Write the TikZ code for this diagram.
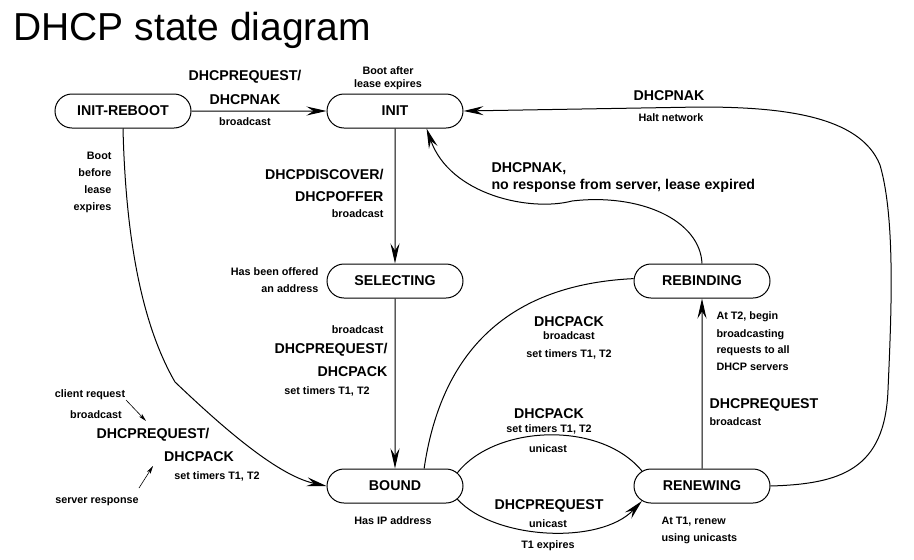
\documentclass[tikz,border=0pt]{standalone}
\usepackage{fontspec}
\setmainfont{Liberation Sans}
\usetikzlibrary{arrows.meta,shapes.misc}

\begin{document}
\begin{tikzpicture}[x=1pt, y=-1pt, line width=1pt,
    >={Stealth[length=20pt,width=9pt,inset=7pt]},
    state/.style={rounded rectangle, draw, minimum width=136pt, minimum height=34pt, inner sep=0pt, font=\bfseries\fontsize{14.2}{16}\selectfont},
    big/.style={inner sep=0pt, font=\bfseries\fontsize{14.2}{16}\selectfont},
    small/.style={inner sep=0pt, font=\bfseries\fontsize{10.8}{12}\selectfont}]
    \useasboundingbox (0,0) rectangle (914,560);
    \node[inner sep=0pt, anchor=base west, font=\fontsize{39}{44}\selectfont] (title) at (13,40) {DHCP state diagram};

    % states
    \node[state] (IR) at (123,111) {INIT-REBOOT};
    \node[state] (I) at (395,111) {INIT};
    \node[state] (S) at (395,281) {SELECTING};
    \node[state] (RB) at (702,281) {REBINDING};
    \node[state] (B) at (395,486) {BOUND};
    \node[state] (RN) at (702,486) {RENEWING};

    % transitions
    \draw[->] (IR) -- (I);
    \draw[->] (I) -- (S);
    \draw[->] (S) -- (B);
    \draw[->] (RN) -- (RB);
    \draw[->] (IR.south) .. controls (126,250) and (145,330) .. (175,382)
        .. controls (215,420) and (275,475) .. (B.west);
    \draw[->] (B.-12) .. controls (495,540) and (600,545) .. (RN.194);
    \draw (RN.166) .. controls (600,420) and (495,425) .. (B.12);
    \draw (RB.178) .. controls (500,285) and (440,360) .. (B.31);
    \draw[->] (RB.north) .. controls (700,220) and (640,193) .. (572,201)
        .. controls (530,212) and (450,195) .. (I.-29);
    \draw[->] (RN.east) .. controls (840,484) and (885,470) .. (888,390)
        .. controls (891,320) and (896,220) .. (880,165)
        .. controls (860,115) and (780,107) .. (700,107) -- (I.east);

    % labels
    \node[big, anchor=base] (a1) at (245,80) {DHCPREQUEST/};
    \node[big, anchor=base] (a2) at (245,104) {DHCPNAK};
    \node[small, anchor=base] (a3) at (245,125) {broadcast};
    \node[small, anchor=base] (b1) at (388,74) {Boot after};
    \node[small, anchor=base] (b2) at (388,87) {lease expires};
    \node[small, anchor=base east] (c1) at (112,159) {Boot};
    \node[small, anchor=base east] (c2) at (112,176) {before};
    \node[small, anchor=base east] (c3) at (112,193) {lease};
    \node[small, anchor=base east] (c4) at (112,210) {expires};
    \node[big, anchor=base east] (d1) at (384,179) {DHCPDISCOVER/};
    \node[big, anchor=base east] (d2) at (384,201) {DHCPOFFER};
    \node[small, anchor=base east] (d3) at (384,217) {broadcast};
    \node[small, anchor=base east] (e1) at (319,275) {Has been offered};
    \node[small, anchor=base east] (e2) at (319,292) {an address};
    \node[big, anchor=base] (f1) at (669,100) {DHCPNAK};
    \node[small, anchor=base] (f2) at (671,121) {Halt network};
    \node[big, anchor=base west] (g1) at (491,172) {DHCPNAK,};
    \node[big, anchor=base west] (g2) at (491,189) {no response from server, lease expired};
    \node[small, anchor=base east] (h1) at (384,333) {broadcast};
    \node[big, anchor=base east] (h2) at (388,353) {DHCPREQUEST/};
    \node[big, anchor=base east] (h3) at (388,376) {DHCPACK};
    \node[small, anchor=base] (h4) at (327,394) {set timers T1, T2};
    \node[small, anchor=base] (k1) at (90,397) {client request};
    \node[small, anchor=base] (k2) at (96,418) {broadcast};
    \node[big, anchor=base] (k3) at (153,438) {DHCPREQUEST/};
    \node[big, anchor=base] (k4) at (199,461) {DHCPACK};
    \node[small, anchor=base] (k5) at (217,479) {set timers T1, T2};
    \node[small, anchor=base] (k6) at (97,503) {server response};
    \node[small, anchor=base] (m1) at (393,524) {Has IP address};
    \node[big, anchor=base] (n1) at (569,326) {DHCPACK};
    \node[small, anchor=base] (n2) at (569,339) {broadcast};
    \node[small, anchor=base] (n3) at (569,357) {set timers T1, T2};
    \node[small, anchor=base west] (p1) at (716,319) {At T2, begin};
    \node[small, anchor=base west] (p2) at (716,337) {broadcasting};
    \node[small, anchor=base west] (p3) at (716,353) {requests to all};
    \node[small, anchor=base west] (p4) at (716,370) {DHCP servers};
    \node[big, anchor=base west] (q1) at (709,408) {DHCPREQUEST};
    \node[small, anchor=base west] (q2) at (709,425) {broadcast};
    \node[big, anchor=base] (r1) at (549,418) {DHCPACK};
    \node[small, anchor=base] (r2) at (549,432) {set timers T1, T2};
    \node[small, anchor=base] (r3) at (548,452) {unicast};
    \node[big, anchor=base] (s1) at (549,509) {DHCPREQUEST};
    \node[small, anchor=base] (s2) at (548,527) {unicast};
    \node[small, anchor=base] (s3) at (548,548) {T1 expires};
    \node[small, anchor=base west] (t1) at (661,524) {At T1, renew};
    \node[small, anchor=base west] (t2) at (661,541) {using unicasts};

    % pointers
    \coordinate (u1) at (126,400);
    \coordinate (u2) at (146,421);
    \coordinate (v1) at (139,488);
    \coordinate (v2) at (153,466);
    \draw[line width=0.6pt, -{Stealth[length=8pt,width=4pt,inset=2pt]}] (u1) -- (u2);
    \draw[line width=0.6pt, -{Stealth[length=8pt,width=4pt,inset=2pt]}] (v1) -- (v2);
\end{tikzpicture}
\end{document}
